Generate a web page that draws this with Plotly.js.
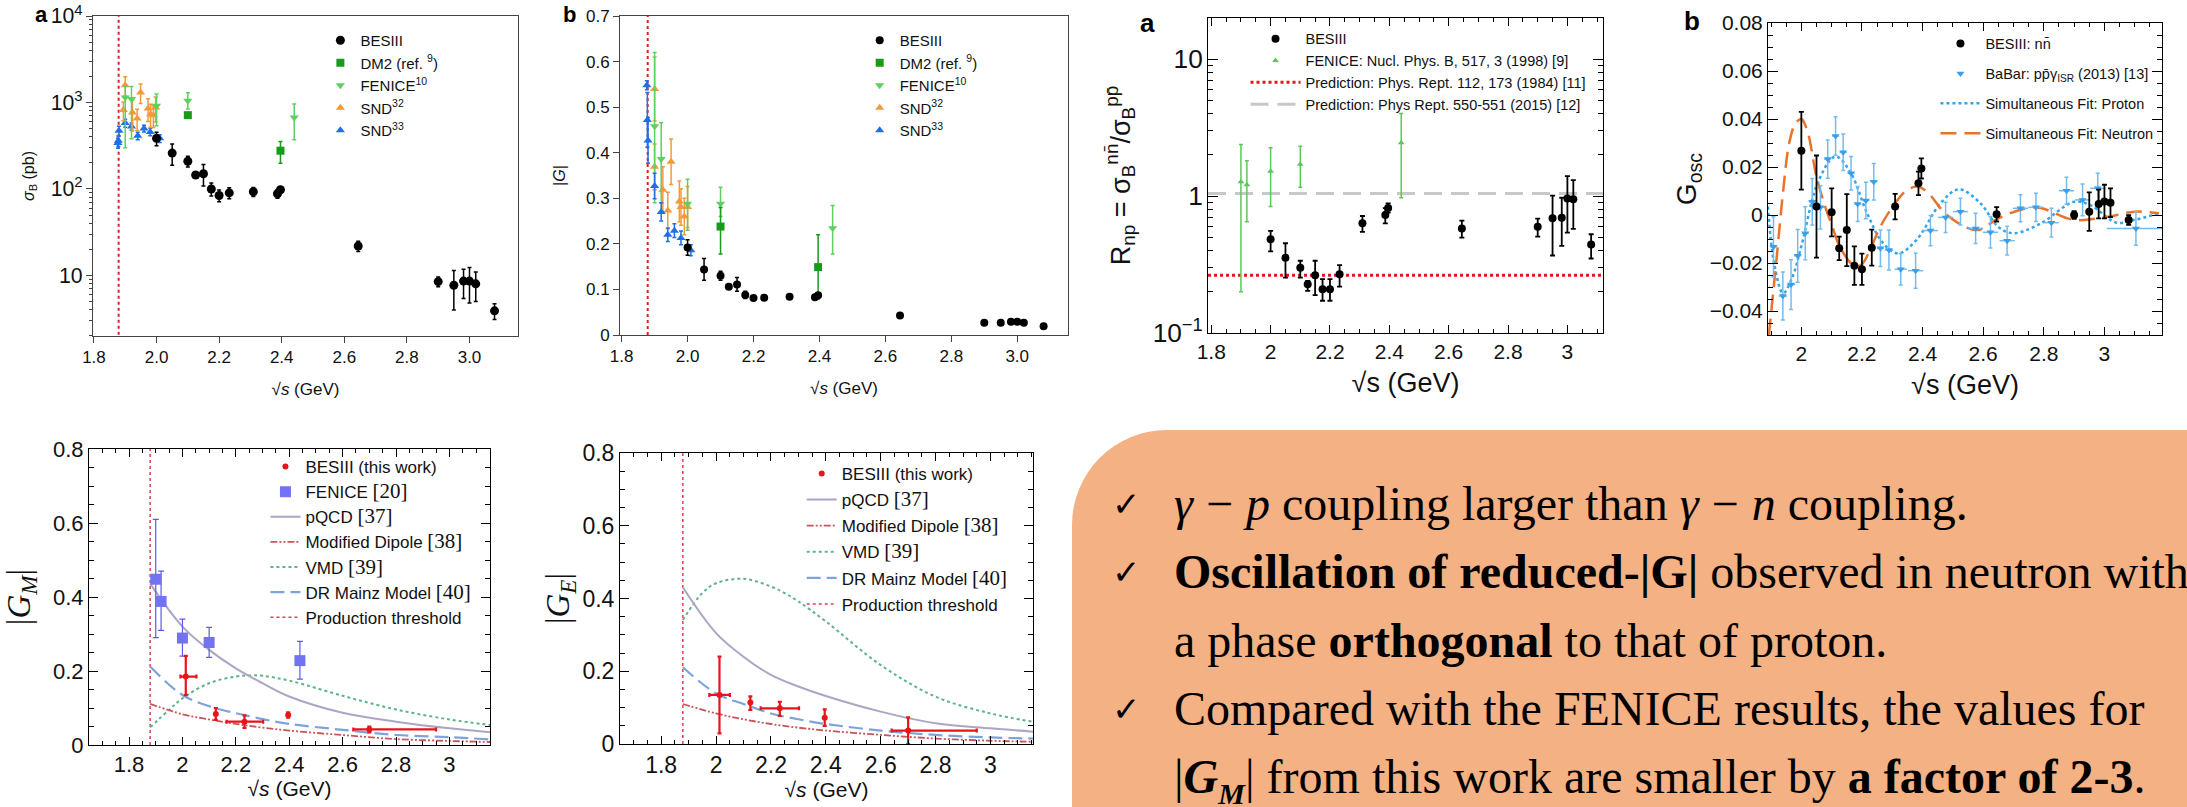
<!DOCTYPE html>
<html><head><meta charset="utf-8">
<script src="https://cdn.plot.ly/plotly-3.0.1.min.js"></script>
<style>
html,body{margin:0;padding:0;width:2187px;height:807px;overflow:hidden;background:#fff;}
.p{position:absolute;}
#box{position:absolute;left:1072px;top:430px;width:1115px;height:377px;background:#f4b183;border-top-left-radius:95px;}
.ln{position:absolute;white-space:nowrap;font-family:"Liberation Serif","Times New Roman",serif;font-size:48px;color:#000;line-height:47px;}
.ck{position:absolute;font-family:"DejaVu Sans",sans-serif;font-size:34px;line-height:47px;}
.lab{position:absolute;font-family:"Liberation Sans",Arial,sans-serif;font-weight:bold;color:#000;}
.mo{margin:0 13px;}
</style></head><body>
<div id="box"></div>
<div id="pa" class="p" style="left:0;top:0;width:540px;height:410px"></div>
<div id="pb" class="p" style="left:530px;top:0;width:550px;height:410px"></div>
<div id="pc" class="p" style="left:1100px;top:0;width:550px;height:410px"></div>
<div id="pd" class="p" style="left:1640px;top:0;width:547px;height:410px"></div>
<div id="pe" class="p" style="left:0;top:420px;width:540px;height:387px"></div>
<div id="pf" class="p" style="left:540px;top:420px;width:520px;height:387px"></div>
<div class="lab" style="left:35px;top:2px;font-size:22px;">a</div>
<div class="lab" style="left:563px;top:2px;font-size:22px;">b</div>
<div class="lab" style="left:1140px;top:8px;font-size:26px;">a</div>
<div class="lab" style="left:1684px;top:6px;font-size:26px;">b</div>

<div class="ck" style="left:1112px;top:481px;">✓</div>
<div class="ln" style="left:1174px;top:480px;"><i>γ</i><span class="mo">−</span><i>p</i> coupling larger than <i>γ</i><span class="mo">−</span><i>n</i> coupling.</div>
<div class="ck" style="left:1112px;top:549px;">✓</div>
<div class="ln" style="left:1174px;top:548px;"><b>Oscillation of reduced-|G|</b> observed in neutron with</div>
<div class="ln" style="left:1174px;top:617px;">a phase <b>orthogonal</b> to that of proton.</div>
<div class="ck" style="left:1112px;top:686px;">✓</div>
<div class="ln" style="left:1174px;top:685px;">Compared with the FENICE results, the values for</div>
<div class="ln" style="left:1174px;top:753px;">|<b><i>G<sub style="font-size:30px">M</sub></i></b>| from this work are smaller by <b>a factor of 2-3</b>.</div>

<script>
// ---------------- DATA ----------------
const thresholdE = 1.879;
// panel a (cross section)
const s_bes = [2.0, 2.05, 2.1, 2.125, 2.15, 2.175, 2.2, 2.2324, 2.3094, 2.3864, 2.396, 2.6444, 2.9, 2.95, 2.981, 3.0, 3.02, 3.08];
const sig_bes = [385, 260, 209, 145, 150, 100, 84, 90, 93, 88, 98, 21.9, 8.5, 7.7, 8.6, 8.6, 8.0, 3.9];
const sig_bes_err = [68, 72, 30, 12, 42, 17, 13, 13, 11, 10, 6, 3, 1.1, 3.7, 3.2, 3.8, 3.0, 0.8];
const s_dm2 = [2.1, 2.396];
const sig_dm2 = [714, 277];
const sig_dm2_err = [30, 78];
const s_fen = [1.9, 1.92, 2.0, 2.1, 2.44];
const sig_fen = [1140, 1100, 915, 1045, 670];
const sig_fen_hi = [400, 430, 335, 255, 290];
const sig_fen_lo = [840, 720, 375, 205, 300];
const s_snd32a = [1.894, 1.90, 1.923, 1.938, 1.949, 1.973, 1.981, 1.99, 1.997];
const sig_snd32 = [816, 1585, 767, 654, 1305, 852, 733, 714, 876];
const sig_snd32_err = [200, 400, 300, 180, 330, 250, 220, 200, 280];
const s_snd33 = [1.8765, 1.878, 1.88, 1.9, 1.92, 1.94, 1.96, 1.98, 2.01];
const sig_snd33 = [340, 360, 470, 578, 528, 412, 501, 457, 385];
const sig_snd33_err = [45, 50, 60, 60, 50, 40, 45, 45, 40];
// panel b (|G|)
const G_bes = [0.192, 0.144, 0.130, 0.106, 0.111, 0.088, 0.081, 0.082, 0.084, 0.083, 0.087, 0.043, 0.027, 0.027, 0.029, 0.029, 0.027, 0.019];
const G_bes_err = [0.017, 0.024, 0.010, 0.005, 0.015, 0.008, 0.005, 0.005, 0.004, 0.004, 0.004, 0.003, 0.002, 0.003, 0.003, 0.003, 0.003, 0.002];
const G_dm2 = [0.238, 0.149];
const G_dm2_hi = [0.042, 0.071];
const G_dm2_lo = [0.060, 0.070];
const G_fen = [0.458, 0.386, 0.288, 0.288, 0.234];
const G_fen_hi = [0.162, 0.080, 0.054, 0.036, 0.050];
const G_fen_lo = [0.168, 0.096, 0.058, 0.028, 0.056];
const s_snd32b = [1.90, 1.90, 1.925, 1.94, 1.95, 1.975, 1.98, 1.99, 2.0];
const G_snd32 = [0.54, 0.369, 0.319, 0.273, 0.38, 0.293, 0.281, 0.26, 0.281];
const G_snd32_err = [0.07, 0.05, 0.05, 0.04, 0.05, 0.045, 0.04, 0.04, 0.045];
const G_snd33 = [0.548, 0.472, 0.427, 0.327, 0.27, 0.22, 0.229, 0.213, 0.186];
const G_snd33_err = [0.01, 0.06, 0.05, 0.028, 0.02, 0.015, 0.015, 0.015, 0.012];
// panel c (R_np)
const R_bes = [0.483, 0.354, 0.30, 0.227, 0.264, 0.209, 0.209, 0.268, 0.632, 0.727, 0.818, 0.58, 0.597, 0.688, 0.695, 0.96, 0.946, 0.442];
const R_bes_hi = [0.073, 0.098, 0.037, 0.013, 0.073, 0.038, 0.038, 0.045, 0.083, 0.09, 0.066, 0.081, 0.087, 0.32, 0.277, 0.44, 0.36, 0.084];
const R_bes_lo = [0.088, 0.10, 0.046, 0.024, 0.075, 0.037, 0.037, 0.05, 0.085, 0.095, 0.062, 0.083, 0.091, 0.32, 0.262, 0.42, 0.37, 0.092];
const R_fen = [1.27, 1.21, 1.52, 1.71, 2.45];
const R_fen_hi = [1.11, 0.60, 0.73, 0.60, 1.55];
const R_fen_lo = [1.07, 0.56, 0.68, 0.55, 1.48];
const R_pred1984 = 0.264;
const R_pred2015 = 1.045;
// panel d (G_osc)
const osc_bes = [0.0268, 0.0035, 0.0011, -0.0139, -0.0063, -0.0211, -0.0226, -0.0136, 0.0035, 0.0132, 0.0194, 0.0003, 0.0, 0.0014, 0.0046, 0.0056, 0.0051, -0.0021];
const osc_bes_err = [0.0162, 0.0213, 0.010, 0.0049, 0.015, 0.008, 0.0065, 0.0075, 0.0053, 0.0049, 0.0042, 0.003, 0.0016, 0.008, 0.006, 0.007, 0.006, 0.002];
const s_babar = [1.908, 1.939, 1.966, 1.988, 2.013, 2.036, 2.063, 2.087, 2.113, 2.138, 2.164, 2.186, 2.213, 2.239, 2.261, 2.289, 2.328, 2.377, 2.426, 2.476, 2.525, 2.575, 2.624, 2.679, 2.723, 2.774, 2.825, 2.875, 2.928, 2.978, 3.104];
const osc_babar = [-0.0132, -0.0338, -0.029, -0.017, -0.0076, 0.0055, 0.0032, 0.0233, 0.0329, 0.0261, 0.0174, 0.0046, 0.006, 0.0139, -0.0139, -0.0146, -0.0226, -0.0232, -0.0065, -0.001, 0.0014, -0.0056, -0.0072, -0.0107, 0.0028, 0.0032, -0.0032, 0.0101, 0.0063, 0.0111, -0.0056];
const osc_babar_err = [0.0125, 0.010, 0.0104, 0.011, 0.011, 0.0097, 0.009, 0.008, 0.008, 0.0076, 0.007, 0.0073, 0.0076, 0.0076, 0.0076, 0.0083, 0.0066, 0.0073, 0.0063, 0.0063, 0.0056, 0.0063, 0.0066, 0.006, 0.0056, 0.0059, 0.006, 0.0056, 0.0066, 0.0063, 0.007];
const s_babar_err = [0.012, 0.014, 0.014, 0.012, 0.012, 0.012, 0.012, 0.012, 0.012, 0.012, 0.012, 0.012, 0.012, 0.012, 0.012, 0.014, 0.02, 0.025, 0.025, 0.025, 0.025, 0.025, 0.025, 0.025, 0.025, 0.025, 0.025, 0.025, 0.025, 0.025, 0.096];
const fitP_s = [1.89, 1.91, 1.94, 1.97, 2.0, 2.05, 2.1, 2.118, 2.164, 2.217, 2.27, 2.32, 2.38, 2.46, 2.52, 2.59, 2.65, 2.70, 2.79, 2.90, 2.955, 3.04, 3.10, 3.18];
const fitP_g = [0.0035, -0.02, -0.0326, -0.026, -0.013, 0.012, 0.0236, 0.0243, 0.0174, 0.0007, -0.0118, -0.016, -0.0104, 0.005, 0.0107, 0.005, -0.005, -0.0076, -0.0035, 0.0055, 0.004, -0.0032, -0.002, 0.0007];
const fitN_s = [1.893, 1.92, 1.94, 1.96, 1.98, 2.0, 2.02, 2.05, 2.08, 2.1, 2.13, 2.178, 2.2, 2.232, 2.26, 2.31, 2.35, 2.386, 2.42, 2.48, 2.58, 2.65, 2.77, 2.90, 3.0, 3.1, 3.18];
const fitN_g = [-0.05, -0.016, 0.01, 0.03, 0.038, 0.040, 0.035, 0.016, 0.003, -0.004, -0.014, -0.0215, -0.0205, -0.013, -0.005, 0.005, 0.0105, 0.0118, 0.009, 0.0, -0.0063, -0.0014, 0.0032, -0.002, -0.001, 0.0014, 0.0007];
// panels e, f (|GM|, |GE|)
const s_ff = [2.0125, 2.125, 2.2324, 2.396, 2.7];
const GM_bes = [0.185, 0.084, 0.063, 0.081, 0.042];
const GM_err_hi = [0.056, 0.016, 0.017, 0.007, 0.008];
const GM_err_lo = [0.050, 0.016, 0.017, 0.007, 0.008];
const GM_s_lo = [0.02, 0, 0.067, 0, 0.06];
const GM_s_hi = [0.04, 0, 0.07, 0, 0.25];
const s_fenGM = [1.9, 1.92, 2.0, 2.1, 2.44];
const GM_fen = [0.448, 0.388, 0.289, 0.277, 0.228];
const GM_fen_hi = [0.162, 0.082, 0.051, 0.041, 0.052];
const GM_fen_lo = [0.158, 0.078, 0.049, 0.040, 0.050];
const GE_bes = [0.135, 0.114, 0.098, 0.072, 0.037];
const GE_err_hi = [0.105, 0.017, 0.018, 0.023, 0.036];
const GE_err_lo = [0.106, 0.020, 0.021, 0.022, 0.037];
const GE_s_lo = [0.037, 0, 0.07, 0, 0.06];
const GE_s_hi = [0.038, 0, 0.07, 0, 0.25];
const mod_s = [1.879, 2.0, 2.1, 2.2, 2.3, 2.4, 2.6, 2.8, 3.0, 3.155];
const GM_pqcd = [0.436, 0.32, 0.257, 0.207, 0.167, 0.131, 0.087, 0.063, 0.045, 0.034];
const GM_mainz = [0.212, 0.135, 0.105, 0.086, 0.07, 0.057, 0.041, 0.027, 0.021, 0.015];
const GM_dipole = [0.111, 0.083, 0.069, 0.057, 0.047, 0.039, 0.027, 0.016, 0.011, 0.008];
const vmd_s = [1.879, 1.95, 2.0, 2.1, 2.2, 2.25, 2.3, 2.4, 2.6, 2.8, 3.0, 3.155];
const GM_vmd = [0.048, 0.095, 0.126, 0.167, 0.185, 0.188, 0.187, 0.174, 0.133, 0.096, 0.069, 0.054];
const GE_pqcd = [0.431, 0.305, 0.24, 0.19, 0.158, 0.132, 0.089, 0.057, 0.043, 0.034];
const GE_mainz = [0.211, 0.139, 0.11, 0.084, 0.068, 0.055, 0.037, 0.025, 0.018, 0.015];
const GE_dipole = [0.11, 0.084, 0.068, 0.055, 0.045, 0.037, 0.025, 0.015, 0.009, 0.006];
const GE_vmd = [0.341, 0.415, 0.442, 0.454, 0.433, 0.415, 0.392, 0.337, 0.217, 0.13, 0.084, 0.061];

// ---------------- HELPERS ----------------
const SANS = 'Liberation Sans, Arial, sans-serif';
const SERIF = 'Liberation Serif, Times New Roman, serif';
function eb(hi, lo, color, th, w) {
  const e = {type:'data', array:hi, color:color, thickness:th, width:w, visible:true};
  if (lo) { e.symmetric = false; e.arrayminus = lo; } else { e.symmetric = true; }
  return e;
}
function ax(o) {
  return Object.assign({showline:true, mirror:true, linecolor:'#000', linewidth:1, zeroline:false,
    showgrid:false, ticks:'inside', tickcolor:'#000', ticklen:6, automargin:false}, o);
}
const cfg = {staticPlot:true, displayModeBar:false};
const br = t => '<span style="font-family:Liberation Serif;font-size:21px">' + t + '</span>';

// ---------------- PANEL a ----------------
(function(){
  const mk = (sym, col, sz) => ({symbol:sym, color:col, size:sz});
  const tr = [
    {x:[thresholdE, thresholdE], y:[1.5, 20000], mode:'lines', line:{color:'#e02020', dash:'dot', width:2}, showlegend:false},
    {x:s_snd33, y:sig_snd33, mode:'markers', name:'SND<sup>33</sup>', legendrank:5, marker:mk('triangle-up','#1f6fe6',8), error_y:eb(sig_snd33_err,null,'#1f6fe6',1.5,2)},
    {x:s_snd32a, y:sig_snd32, mode:'markers', name:'SND<sup>32</sup>', legendrank:4, marker:mk('triangle-up','#f59a3a',8), error_y:eb(sig_snd32_err,null,'#f59a3a',1.5,2)},
    {x:s_fen, y:sig_fen, mode:'markers', name:'FENICE<sup>10</sup>', legendrank:3, marker:mk('triangle-down','#5fcf5f',8), error_y:eb(sig_fen_hi,sig_fen_lo,'#5fcf5f',1.5,2)},
    {x:s_dm2, y:sig_dm2, mode:'markers', name:'DM2 (ref. <sup>9</sup>)', legendrank:2, marker:mk('square','#1a9a1a',8), error_y:eb(sig_dm2_err,null,'#1a9a1a',1.5,2)},
    {x:s_bes, y:sig_bes, mode:'markers', name:'BESIII', legendrank:1, marker:mk('circle','#000',9), error_y:eb(sig_bes_err,null,'#000',1.5,2)}
  ];
  const lay = {width:540, height:410, margin:{l:93, r:22, t:16, b:74}, paper_bgcolor:'rgba(0,0,0,0)', plot_bgcolor:'#fff',
    font:{family:SANS, color:'#111', size:17},
    xaxis:ax({range:[1.797,3.155], tick0:1.8, dtick:0.2, tickformat:'.1f', ticks:'outside', linecolor:'#444', tickcolor:'#444', tickfont:{size:17},
      title:{text:'√<i>s</i> (GeV)', font:{size:17}, standoff:16}}),
    yaxis:ax({type:'log', range:[0.3,4], dtick:1, exponentformat:'power', ticks:'outside', linecolor:'#444', tickcolor:'#444', tickfont:{size:17},
      minor:{ticks:'outside', ticklen:3, dtick:'D1', tickcolor:'#444'},
      title:{text:'<i>σ</i><sub>B</sub> (pb)', font:{size:16}, standoff:12}}),
    legend:{x:0.535, y:0.975, xanchor:'left', yanchor:'top', font:{size:15}, bgcolor:'rgba(0,0,0,0)', tracegroupgap:0}
  };
  Plotly.newPlot('pa', tr, lay, cfg);
})();

// ---------------- PANEL b ----------------
(function(){
  const mk = (sym, col, sz) => ({symbol:sym, color:col, size:sz});
  const tr = [
    {x:[thresholdE, thresholdE], y:[0, 0.7], mode:'lines', line:{color:'#e02020', dash:'dot', width:2}, showlegend:false},
    {x:s_snd32b, y:G_snd32, mode:'markers', name:'SND<sup>32</sup>', legendrank:4, marker:mk('triangle-up','#f59a3a',8), error_y:eb(G_snd32_err,null,'#f59a3a',1.5,2)},
    {x:s_fen, y:G_fen, mode:'markers', name:'FENICE<sup>10</sup>', legendrank:3, marker:mk('triangle-down','#5fcf5f',8), error_y:eb(G_fen_hi,G_fen_lo,'#5fcf5f',1.5,2)},
    {x:s_dm2, y:G_dm2, mode:'markers', name:'DM2 (ref. <sup>9</sup>)', legendrank:2, marker:mk('square','#1a9a1a',8), error_y:eb(G_dm2_hi,G_dm2_lo,'#1a9a1a',1.5,2)},
    {x:s_snd33, y:G_snd33, mode:'markers', name:'SND<sup>33</sup>', legendrank:5, marker:mk('triangle-up','#1f6fe6',8), error_y:eb(G_snd33_err,null,'#1f6fe6',1.5,2)},
    {x:s_bes, y:G_bes, mode:'markers', name:'BESIII', legendrank:1, marker:mk('circle','#000',8), error_y:eb(G_bes_err,null,'#000',1.5,2)}
  ];
  const lay = {width:550, height:410, margin:{l:90, r:12, t:16, b:75}, paper_bgcolor:'rgba(0,0,0,0)', plot_bgcolor:'#fff',
    font:{family:SANS, color:'#111', size:17},
    xaxis:ax({range:[1.795,3.154], tick0:1.8, dtick:0.2, tickformat:'.1f', ticks:'outside', linecolor:'#444', tickcolor:'#444', tickfont:{size:17},
      title:{text:'√<i>s</i> (GeV)', font:{size:17}, standoff:16}}),
    yaxis:ax({range:[0,0.7], dtick:0.1, ticks:'outside', linecolor:'#444', tickcolor:'#444', tickfont:{size:17},
      title:{text:'|<i>G</i>|', font:{size:16}, standoff:16}}),
    legend:{x:0.535, y:0.975, xanchor:'left', yanchor:'top', font:{size:15}, bgcolor:'rgba(0,0,0,0)', tracegroupgap:0}
  };
  Plotly.newPlot('pb', tr, lay, cfg);
})();

// ---------------- PANEL c ----------------
(function(){
  const xr = [1.789, 3.12];
  const tr = [
    {x:xr, y:[R_pred2015, R_pred2015], mode:'lines', name:'Prediction: Phys Rept. 550-551 (2015) [12]', legendrank:4, line:{color:'#c8c8c8', dash:'18px,9px', width:3}},
    {x:xr, y:[R_pred1984, R_pred1984], mode:'lines', name:'Prediction: Phys. Rept. 112, 173 (1984) [11]', legendrank:3, line:{color:'#e01818', dash:'dot', width:3}},
    {x:s_fen, y:R_fen, mode:'markers', name:'FENICE: Nucl. Phys. B, 517, 3 (1998) [9]', legendrank:2, marker:{symbol:'triangle-up', color:'#5cc85c', size:6}, error_y:eb(R_fen_hi,R_fen_lo,'#5cc85c',1.5,2)},
    {x:s_bes, y:R_bes, mode:'markers', name:'BESIII', legendrank:1, marker:{symbol:'circle', color:'#000', size:8}, error_y:eb(R_bes_hi,R_bes_lo,'#000',1.8,2.5)}
  ];
  const lay = {width:550, height:410, margin:{l:108, r:47, t:18, b:77}, paper_bgcolor:'rgba(0,0,0,0)', plot_bgcolor:'#fff',
    font:{family:SANS, color:'#111', size:21},
    xaxis:ax({range:xr, tick0:1.8, dtick:0.2, mirror:'allticks', ticklen:8, tickfont:{size:21}, minor:{ticks:'inside', ticklen:4, dtick:0.05},
      title:{text:'√s (GeV)', font:{size:27}, standoff:10}}),
    yaxis:ax({type:'log', range:[-1,1.3], dtick:1, exponentformat:'power', mirror:'allticks', ticklen:10, tickfont:{size:21},
      minor:{ticks:'inside', ticklen:5, dtick:'D1'},
      title:{text:'R<sub>np</sub> = σ<sub>B</sub><sup>nn̄</sup>/σ<sub>B</sub><sup>pp̄</sup>', font:{size:27}, standoff:14}}),
    legend:{x:0.095, y:0.985, xanchor:'left', yanchor:'top', font:{size:14.5}, bgcolor:'rgba(0,0,0,0)', tracegroupgap:0, itemwidth:50}
  };
  Plotly.newPlot('pc', tr, lay, cfg);
})();

// ---------------- PANEL d ----------------
(function(){
  const tr = [
    {x:fitP_s, y:fitP_g, mode:'lines', name:'Simultaneous Fit: Proton', legendrank:3, legendgroup:'c', line:{color:'#2fa6ea', dash:'dot', width:2.5, shape:'spline', smoothing:1}},
    {x:fitN_s, y:fitN_g, mode:'lines', name:'Simultaneous Fit: Neutron', legendrank:4, legendgroup:'d', line:{color:'#e8732a', dash:'16px,8px', width:2.5, shape:'spline', smoothing:1}},
    {x:s_babar, y:osc_babar, mode:'markers', name:'BaBar: pp̄γ<sub>ISR</sub> (2013) [13]', legendrank:2, legendgroup:'b', marker:{symbol:'triangle-down', color:'#3a9ee8', size:7},
      error_y:eb(osc_babar_err,null,'#74bcf0',1.5,2), error_x:eb(s_babar_err,null,'#74bcf0',1.5,0)},
    {x:s_bes, y:osc_bes, mode:'markers', name:'BESIII: nn̄', legendrank:1, legendgroup:'a', marker:{symbol:'circle', color:'#000', size:8}, error_y:eb(osc_bes_err,null,'#000',1.8,2.5)}
  ];
  const lay = {width:547, height:410, margin:{l:128, r:25, t:23, b:75}, paper_bgcolor:'rgba(0,0,0,0)', plot_bgcolor:'#fff',
    font:{family:SANS, color:'#111', size:21},
    xaxis:ax({range:[1.89,3.19], tick0:2, dtick:0.2, mirror:'allticks', ticklen:8, tickfont:{size:21}, minor:{ticks:'inside', ticklen:4, dtick:0.05},
      title:{text:'√s (GeV)', font:{size:27}, standoff:10}}),
    yaxis:ax({range:[-0.05,0.08], dtick:0.02, mirror:'allticks', ticklen:10, tickfont:{size:21}, minor:{ticks:'inside', ticklen:5, dtick:0.005},
      title:{text:'G<sub>osc</sub>', font:{size:28}, standoff:4}}),
    legend:{x:0.425, y:0.985, xanchor:'left', yanchor:'top', font:{size:14.5}, bgcolor:'rgba(0,0,0,0)', tracegroupgap:8, itemwidth:40}
  };
  Plotly.newPlot('pd', tr, lay, cfg);
})();

// ---------------- PANELS e, f ----------------
function ffPanel(id, w, margin, xr, showFen, bes, hi, lo, slo, shi, pqcd, mainz, dip, vmd, ytitle, lg, tfs) {
  const tr = [
    {x:[thresholdE, thresholdE], y:[0, 0.8], mode:'lines', name:'Production threshold', legendrank:7, line:{color:'#e04050', dash:'dot', width:1.5}},
    {x:vmd_s, y:vmd, mode:'lines', name:'VMD ' + br('[39]'), legendrank:5, line:{color:'#5fb38a', dash:'dot', width:2, shape:'spline'}},
    {x:mod_s, y:dip, mode:'lines', name:'Modified Dipole ' + br('[38]'), legendrank:4, line:{color:'#c8555a', dash:'7px,2px,2px,2px,2px,2px', width:1.8, shape:'spline'}},
    {x:mod_s, y:mainz, mode:'lines', name:'DR Mainz Model ' + br('[40]'), legendrank:6, line:{color:'#7ea3dc', dash:'14px,6px', width:2.2, shape:'spline'}},
    {x:mod_s, y:pqcd, mode:'lines', name:'pQCD ' + br('[37]'), legendrank:3, line:{color:'#aaa6c4', width:2, shape:'spline'}}
  ];
  if (showFen) tr.push({x:s_fenGM, y:GM_fen, mode:'markers', name:'FENICE ' + br('[20]'), legendrank:2,
    marker:{symbol:'square', color:'#7272f2', size:11}, error_y:eb(GM_fen_hi, GM_fen_lo, '#5a5af0', 1.2, 3)});
  tr.push({x:s_ff, y:bes, mode:'markers', name:'BESIII (this work)', legendrank:1, marker:{symbol:'circle', color:'#e8141a', size:6},
    error_y:eb(hi, lo, '#e8141a', 2.2, 2), error_x:eb(shi, slo, '#e8141a', 2.2, 2)});
  tr.forEach((t,i)=>{ t.legendgroup = 'g'+i; });
  const lay = {width:w, height:387, margin:margin, paper_bgcolor:'rgba(0,0,0,0)', plot_bgcolor:'#fff',
    font:{family:SANS, color:'#111', size:18},
    xaxis:ax({range:xr, tick0:1.8, dtick:0.2, mirror:'allticks', ticklen:8, tickfont:{size:tfs}, minor:{ticks:'inside', ticklen:4, dtick:0.05},
      title:{text:'√<i>s</i> (GeV)', font:{size:21}, standoff:2}}),
    yaxis:ax({range:[0,0.8], dtick:0.2, mirror:'allticks', ticklen:9, tickfont:{size:tfs}, minor:{ticks:'inside', ticklen:5, dtick:0.05},
      title:{text:ytitle, font:{family:SERIF, size:33}, standoff:12}}),
    legend:Object.assign({xanchor:'left', yanchor:'top', bgcolor:'rgba(0,0,0,0)', itemwidth:30}, lg)
  };
  Plotly.newPlot(id, tr, lay, cfg);
}
ffPanel('pe', 540, {l:89, r:50, t:29, b:62}, [1.65,3.152], true, GM_bes, GM_err_hi, GM_err_lo, GM_s_lo, GM_s_hi,
  GM_pqcd, GM_mainz, GM_dipole, GM_vmd, '|<i>G<sub>M</sub></i>|', {x:0.44, y:1.0, font:{size:17}, tracegroupgap:0}, 22);
ffPanel('pf', 520, {l:80, r:27, t:33, b:63}, [1.65,3.155], false, GE_bes, GE_err_hi, GE_err_lo, GE_s_lo, GE_s_hi,
  GE_pqcd, GE_mainz, GE_dipole, GE_vmd, '|<i>G<sub>E</sub></i>|', {x:0.44, y:0.99, font:{size:17}, tracegroupgap:1}, 23);
</script>
</body></html>
